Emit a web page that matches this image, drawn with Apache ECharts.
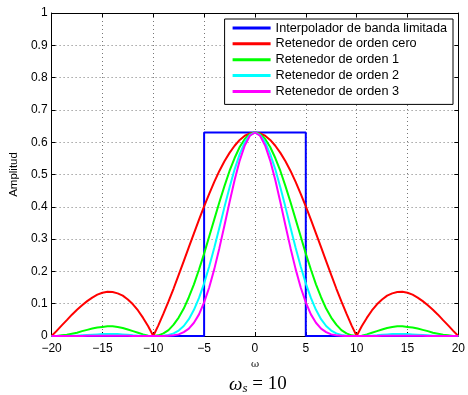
<!DOCTYPE html>
<html>
<head>
<meta charset="utf-8">
<script src="https://cdn.jsdelivr.net/npm/echarts@6/dist/echarts.min.js"></script>
<style>
html,body{margin:0;padding:0;background:#fff;}
#chart{width:468px;height:395px;}
</style>
</head>
<body>
<div id="chart"></div>
<script>
// Frequency axis samples (ω), step 0.5 from -20 to 20
const omega = [
  -20,-19.5,-19,-18.5,-18,-17.5,-17,-16.5,-16,-15.5,-15,-14.5,-14,-13.5,-13,-12.5,-12,-11.5,-11,-10.5,
  -10,-9.5,-9,-8.5,-8,-7.5,-7,-6.5,-6,-5.5,-5,-4.5,-4,-3.5,-3,-2.5,-2,-1.5,-1,-0.5,
  0,0.5,1,1.5,2,2.5,3,3.5,4,4.5,5,5.5,6,6.5,7,7.5,8,8.5,9,9.5,
  10,10.5,11,11.5,12,12.5,13,13.5,14,14.5,15,15.5,16,16.5,17,17.5,18,18.5,19,19.5,20
];

// Ideal band-limited interpolator (rectangle)
const bandX = [-20, -5, -5, 5, 5, 20];
const bandY = [0, 0, 0.63, 0.63, 0, 0];

// Zero-order hold magnitude
const hold0 = [
  0,0.016,0.033,0.049,0.066,0.081,0.095,0.108,0.119,0.128,0.134,0.137,0.136,0.132,0.125,0.113,0.098,0.079,0.056,0.030,
  0,0.033,0.069,0.107,0.147,0.189,0.232,0.275,0.318,0.360,0.401,0.440,0.477,0.511,0.541,0.567,0.589,0.607,0.620,0.627,
  0.630,0.627,0.620,0.607,0.589,0.567,0.541,0.511,0.477,0.440,0.401,0.360,0.318,0.275,0.232,0.189,0.147,0.107,0.069,0.033,
  0,0.030,0.056,0.079,0.098,0.113,0.125,0.132,0.136,0.137,0.134,0.128,0.119,0.108,0.095,0.081,0.066,0.049,0.033,0.016,0
];

// First-order hold magnitude
const hold1 = [
  0,0.000,0.002,0.004,0.007,0.010,0.015,0.019,0.023,0.026,0.028,0.030,0.030,0.028,0.025,0.020,0.015,0.010,0.005,0.001,
  0,0.002,0.008,0.018,0.035,0.057,0.085,0.120,0.160,0.206,0.255,0.308,0.361,0.414,0.464,0.511,0.551,0.585,0.610,0.625,
  0.630,0.625,0.610,0.585,0.551,0.511,0.464,0.414,0.361,0.308,0.255,0.206,0.160,0.120,0.085,0.057,0.035,0.018,0.008,0.002,
  0,0.001,0.005,0.010,0.015,0.020,0.025,0.028,0.030,0.030,0.028,0.026,0.023,0.019,0.015,0.010,0.007,0.004,0.002,0.000,0
];

// Second-order hold magnitude
const hold2 = [
  0,0,0.000,0.000,0.001,0.001,0.002,0.003,0.004,0.005,0.006,0.006,0.006,0.006,0.005,0.004,0.002,0.001,0.001,0.000,
  0,0.000,0.001,0.003,0.008,0.017,0.031,0.052,0.081,0.118,0.163,0.215,0.273,0.335,0.399,0.460,0.516,0.563,0.600,0.622,
  0.630,0.622,0.600,0.563,0.516,0.460,0.399,0.335,0.273,0.215,0.163,0.118,0.081,0.052,0.031,0.017,0.008,0.003,0.001,0.000,
  0,0.000,0.001,0.001,0.002,0.004,0.005,0.006,0.006,0.006,0.006,0.005,0.004,0.003,0.002,0.001,0.001,0.000,0.000,0,0
];

// Third-order hold magnitude
const hold3 = [
  0,0,0,0,0.000,0.000,0.000,0.001,0.001,0.001,0.001,0.001,0.001,0.001,0.001,0.001,0.000,0.000,0,0,
  0,0,0.000,0.001,0.002,0.005,0.012,0.023,0.041,0.067,0.104,0.150,0.207,0.272,0.342,0.414,0.483,0.543,0.590,0.620,
  0.630,0.620,0.590,0.543,0.483,0.414,0.342,0.272,0.207,0.150,0.104,0.067,0.041,0.023,0.012,0.005,0.002,0.001,0.000,0,
  0,0,0,0.000,0.000,0.001,0.001,0.001,0.001,0.001,0.001,0.001,0.001,0.001,0.000,0.000,0.000,0,0,0,0
];

const seriesNames = [
  'Interpolador de banda limitada',
  'Retenedor de orden cero',
  'Retenedor de orden 1',
  'Retenedor de orden 2',
  'Retenedor de orden 3'
];
const seriesColors = ['#0000ff', '#ff0000', '#00ff00', '#00ffff', '#ff00ff'];

const xTicks = { min: -20, max: 20, step: 5 };
const yTicks = { min: 0, max: 1, step: 0.1 };

function pairs(xs, ys) { return xs.map((x, i) => [x, ys[i]]); }

const curves = [pairs(bandX, bandY), pairs(omega, hold0), pairs(omega, hold1), pairs(omega, hold2), pairs(omega, hold3)];

const FONT = 'Liberation Sans';
const chart = echarts.init(document.getElementById('chart'), null, { renderer: 'canvas' });

const axisLine = { show: true, onZero: false, lineStyle: { color: '#000', width: 1 } };
const tick = { show: true, inside: true, length: 4, lineStyle: { color: '#000', width: 1 } };
const grid = { show: true, lineStyle: { color: '#777', type: [1, 3], width: 1 } };

chart.setOption({
  animation: false,
  backgroundColor: '#fff',
  grid: { left: 49, right: 9, top: 13, bottom: 59, containLabel: false },
  xAxis: [
    {
      type: 'value', min: xTicks.min, max: xTicks.max, interval: xTicks.step,
      axisLine, axisTick: tick, splitLine: grid,
      axisLabel: { color: '#000', fontFamily: FONT, fontSize: 12, margin: 7,
        formatter: v => String(v).replace('-', '\u2212') },
      name: 'ω', nameLocation: 'middle', nameGap: 23,
      nameTextStyle: { color: '#000', fontFamily: 'DejaVu Serif', fontSize: 10, verticalAlign: 'top' }
    },
    {
      type: 'value', position: 'top', min: xTicks.min, max: xTicks.max, interval: xTicks.step,
      axisLine, axisTick: tick, splitLine: { show: false }, axisLabel: { show: false }
    }
  ],
  yAxis: [
    {
      type: 'value', min: yTicks.min, max: yTicks.max, interval: yTicks.step,
      axisLine, axisTick: tick, splitLine: grid,
      axisLabel: { color: '#000', fontFamily: FONT, fontSize: 12, margin: 4,
        formatter: v => String(Math.round(v * 10) / 10) },
      name: 'Amplitud', nameLocation: 'middle', nameGap: 30, nameRotate: 90,
      nameTextStyle: { color: '#000', fontFamily: FONT, fontSize: 11.5 }
    },
    {
      type: 'value', position: 'right', min: yTicks.min, max: yTicks.max, interval: yTicks.step,
      axisLine, axisTick: tick, splitLine: { show: false }, axisLabel: { show: false }
    }
  ],
  legend: {
    orient: 'vertical', right: 15, top: 19,
    data: seriesNames.map((n, i) => ({ name: n, icon: 'rect', itemStyle: { color: seriesColors[i] } })),
    itemWidth: 38, itemHeight: 3, itemGap: 1.85,
    padding: [2, 6, 6, 8],
    backgroundColor: '#fff', borderColor: '#000', borderWidth: 1,
    textStyle: { color: '#000', fontFamily: FONT, fontSize: 12.7, lineHeight: 14 },
    selectedMode: false
  },
  graphic: [{
    type: 'text', left: 229, top: 375,
    style: {
      text: '{w|ω}{s|s}{n| = 10}',
      rich: {
        w: { fontFamily: 'Liberation Serif', fontStyle: 'italic', fontSize: 19, fill: '#000' },
        s: { fontFamily: 'Liberation Serif', fontStyle: 'italic', fontSize: 13, fill: '#000', verticalAlign: 'bottom', padding: [8, 0, 0, 0] },
        n: { fontFamily: 'Liberation Serif', fontSize: 19, fill: '#000' }
      }
    }
  }],
  series: curves.map((d, i) => ({
    type: 'line', name: seriesNames[i], data: d,
    showSymbol: false, symbol: 'none', smooth: false,
    lineStyle: { color: seriesColors[i], width: 2 },
    itemStyle: { color: seriesColors[i] },
    z: 2 + i
  }))
});
</script>
</body>
</html>
